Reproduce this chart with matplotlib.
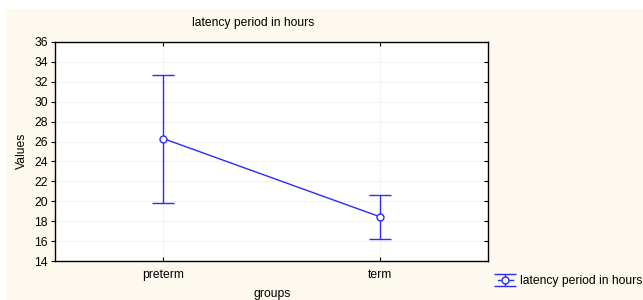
import matplotlib
matplotlib.use("Agg")
from matplotlib import pyplot as plt
from matplotlib.patches import Rectangle

plt.rcParams['font.family'] = ['Liberation Sans', 'DejaVu Sans']

groups = ["preterm", "term"]
means = [26.3, 18.45]
upper = [32.7, 20.65]
lower = [19.85, 16.25]

W, H = 643, 300
blue = "#2a2aff"
cream = "#fdf9ef"
fs = 8.7

fig = plt.figure(figsize=(W / 100, H / 100), dpi=100)
fig.patch.set_facecolor("white")
# cream panel, small white margin top and left
fig.patches.append(Rectangle((7 / W, 0), 1, (H - 9) / H, transform=fig.transFigure,
                             facecolor=cream, edgecolor="none", zorder=-10))

ax = fig.add_axes([55 / W, (H - 261) / H, 433 / W, 219 / H])
ax.set_facecolor("white")

x = list(range(len(groups)))
err_lo = [m - l for m, l in zip(means, lower)]
err_hi = [u - m for m, u in zip(means, upper)]
ax.errorbar(x, means, yerr=[err_lo, err_hi], color=blue, lw=1.0, capsize=8,
            capthick=1.0, marker="o", ms=5, mfc="white", mec=blue, mew=1.0,
            label="latency period in hours", zorder=3)

ax.set_xlim(-0.5, 1.5)
ax.set_ylim(14, 36)
ax.set_yticks(range(14, 37, 2))
ax.set_xticks(x)
ax.set_xticklabels(groups)
ax.grid(True, color="#e2e2e2", lw=0.6, ls=(0, (1, 1)))
ax.set_axisbelow(True)
for s in ax.spines.values():
    s.set_linewidth(1.0)
    s.set_color("black")
ax.tick_params(axis="y", which="both", direction="out", left=True, right=True,
               length=3, width=0.8, labelsize=fs, pad=2)
ax.tick_params(axis="x", direction="in", top=True, bottom=True, length=3,
               width=0.8, labelsize=fs, pad=6)
for t in ax.yaxis.get_major_ticks():
    t.tick2line.set_marker(matplotlib.lines.TICKLEFT)

fig.text(253 / W, 1 - 23 / H, "latency period in hours", ha="center", va="center", fontsize=fs)
fig.text(272 / W, 1 - 294 / H, "groups", ha="center", va="center", fontsize=fs)
fig.text(22 / W, 1 - 151 / H, "Values", ha="center", va="center", rotation=90, fontsize=fs)

fig.legend(loc="center left", bbox_to_anchor=(498 / W, 1 - 281 / H), frameon=False,
           fontsize=fs, handlelength=1.2, handletextpad=0.6, borderpad=0, borderaxespad=0)

fig.savefig("out.png", dpi=100, facecolor=fig.get_facecolor())
